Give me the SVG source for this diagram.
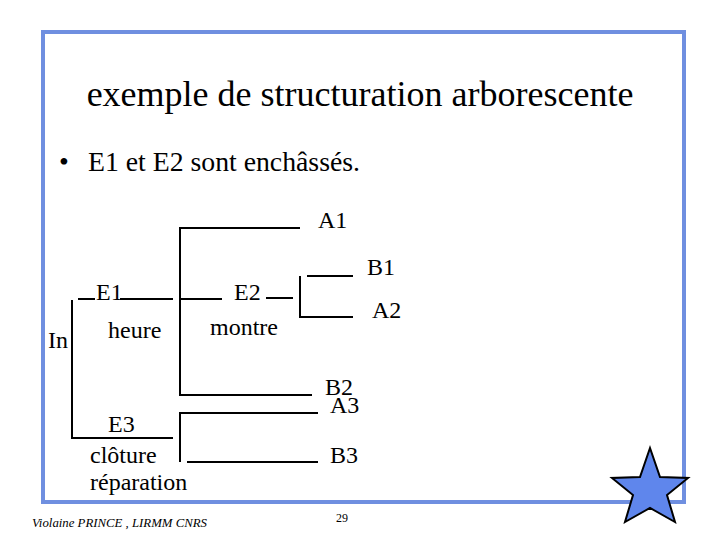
<svg xmlns="http://www.w3.org/2000/svg" width="720" height="540" viewBox="0 0 720 540" font-family="'Liberation Serif', 'DejaVu Serif', 'Times New Roman', serif">
<style>
text{font-family:'Liberation Serif','DejaVu Serif','Times New Roman',serif;fill:#000}
.lab{font-size:24px}
.ln{stroke:#000;stroke-width:2;fill:none}
</style>
<rect width="720" height="540" fill="#fff"/>
<rect id="frame" x="43" y="32" width="641" height="470" fill="none" stroke="#6f8fe0" stroke-width="4"/>
<text id="title" x="360" y="106" font-size="36" text-anchor="middle">exemple de structuration arborescente</text>
<g id="bullet">
<text x="59" y="171" font-size="28">•</text>
<text x="88" y="171" font-size="28" textLength="272" lengthAdjust="spacingAndGlyphs">E1 et E2 sont enchâssés.</text>
</g>
<g id="connectors">
<path class="ln" d="M72 300V438H173"/>
<path class="ln" d="M78 299H95M120 299H173"/>
<path class="ln" d="M300 228H180V395H312"/>
<path class="ln" d="M180 299H222M266 298H293"/>
<path class="ln" d="M318 413H180V462M187 462H318"/>
<path class="ln" d="M307 276H353M300 276V317H353"/>
</g>
<g id="In"><text class="lab" x="48" y="348">In</text></g>
<g id="E1"><text class="lab" x="96" y="300">E1</text><text class="lab" x="108" y="338">heure</text></g>
<g id="E2"><text class="lab" x="234" y="300">E2</text><text class="lab" x="210" y="335">montre</text></g>
<g id="A1"><text class="lab" x="318" y="228">A1</text></g>
<g id="B1"><text class="lab" x="367" y="275">B1</text></g>
<g id="A2"><text class="lab" x="372" y="318">A2</text></g>
<g id="B2"><text class="lab" x="325" y="395">B2</text></g>
<g id="A3"><text class="lab" x="330" y="413">A3</text></g>
<g id="B3"><text class="lab" x="330" y="463">B3</text></g>
<g id="E3"><text class="lab" x="108" y="432">E3</text><text class="lab" x="90" y="463">clôture</text><text class="lab" x="90" y="490">réparation</text></g>
<text id="footer" x="32" y="527" font-size="13" font-style="italic" textLength="175" lengthAdjust="spacingAndGlyphs">Violaine PRINCE , LIRMM CNRS</text>
<text id="page" x="336" y="522" font-size="12">29</text>
<polygon id="star" points="650,448 660,477 688,478 667,495 675,522 650,508 625,522 633,495 612,478 640,477" fill="#5f86ec" stroke="#000" stroke-width="2"/>
</svg>
